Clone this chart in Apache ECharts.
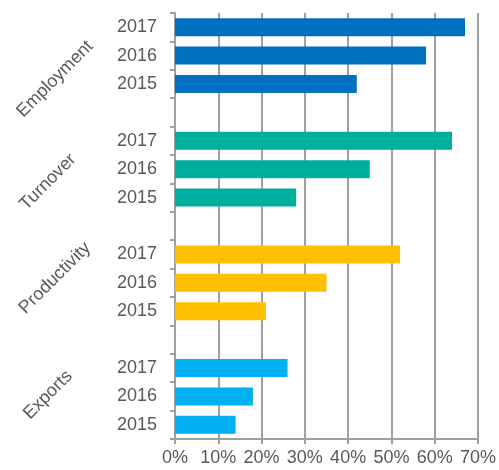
<!DOCTYPE html>
<html>
<head>
<meta charset="utf-8">
<script src="https://cdn.jsdelivr.net/npm/echarts@6/dist/echarts.min.js"></script>
<style>html,body{margin:0;padding:0;background:#fff}#c{width:499px;height:470px}</style>
</head>
<body>
<div id="c"></div>
<script>
var groups = ['Employment', 'Turnover', 'Productivity', 'Exports'];
var years = ['2017', '2016', '2015'];
var employment = [67, 58, 42];
var turnover = [64, 45, 28];
var productivity = [52, 35, 21];
var exportsVals = [26, 18, 14];
var xTicks = [0, 10, 20, 30, 40, 50, 60, 70];
var groupColors = ['#0070C0', '#00AE9D', '#FFC000', '#00B0F0'];

var groupValues = [employment, turnover, productivity, exportsVals];
var cats = [];
var data = [];
groups.forEach(function (g, gi) {
  if (gi > 0) { cats.push('gap' + gi); data.push(null); }
  years.forEach(function (y, yi) {
    cats.push(g + '|' + y);
    data.push({ value: groupValues[gi][yi], itemStyle: { color: groupColors[gi] } });
  });
});

var labelPos = [[55, 79], [48, 182], [55, 278], [48, 395]];
var FONT = 'Liberation Sans, Arial, sans-serif';

var chart = echarts.init(document.getElementById('c'));
chart.setOption({
  animation: false,
  grid: { left: 175, right: 17, top: 13, bottom: 31 },
  xAxis: {
    type: 'value', min: xTicks[0], max: xTicks[xTicks.length - 1], interval: 10,
    axisLine: { show: true, lineStyle: { color: '#A0A0A0', width: 2 } },
    axisTick: { show: true, length: 5, lineStyle: { color: '#A0A0A0', width: 2 } },
    splitLine: { show: true, lineStyle: { color: '#A0A0A0', width: 2 } },
    axisLabel: { formatter: '{value}%', color: '#595959', fontSize: 18, fontFamily: FONT, margin: 10 }
  },
  yAxis: {
    type: 'category', inverse: true, data: cats,
    axisLine: { show: true, lineStyle: { color: '#A0A0A0', width: 2 } },
    axisTick: { show: true, length: 5, interval: 0, lineStyle: { color: '#A0A0A0', width: 2 } },
    axisLabel: {
      interval: 0, margin: 18, color: '#595959', fontSize: 18, fontFamily: FONT,
      formatter: function (v) { return v.indexOf('|') >= 0 ? v.split('|')[1] : ''; }
    }
  },
  series: [{
    type: 'bar', data: data, barWidth: 18
  }],
  graphic: groups.map(function (g, i) {
    return {
      type: 'text', x: labelPos[i][0], y: labelPos[i][1], rotation: Math.PI / 4,
      style: { text: g, fill: '#595959', fontSize: 18, fontFamily: FONT, align: 'center', verticalAlign: 'middle' }
    };
  })
});
</script>
</body>
</html>
